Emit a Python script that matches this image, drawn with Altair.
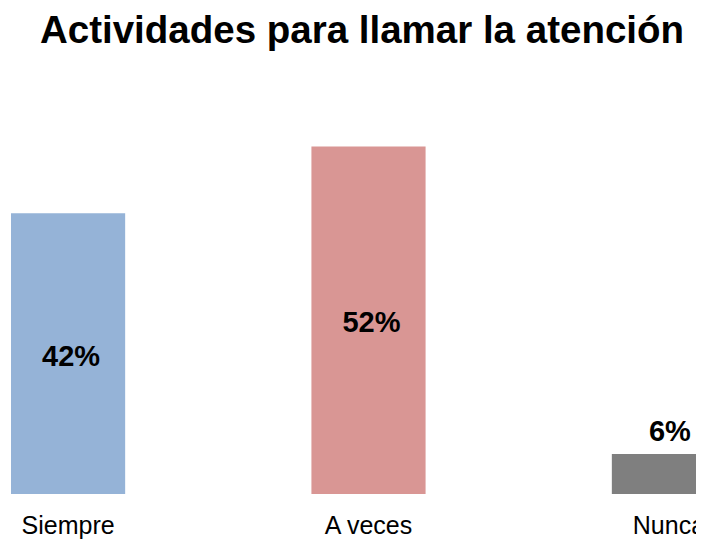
import altair as alt
import pandas as pd

categories = ["Siempre", "A veces", "Nunca"]
values = [0.42, 0.52, 0.06]
colors = ["#95B3D7", "#D99694", "#7F7F7F"]
title = "Actividades para llamar la atención"

df = pd.DataFrame({"cat": categories, "val": values})

x = alt.X("cat:N", sort=categories, title=None,
          scale=alt.Scale(range=[0, 721], paddingInner=0.62, paddingOuter=0.01),
          axis=alt.Axis(ticks=False, domain=False, labelAngle=0, labelFont="Liberation Sans",
                        labelFontSize=25, labelColor="black", labelPadding=19))
y = alt.Y("val:Q", scale=alt.Scale(domain=[0, 0.6]), axis=None, title=None)

bars = alt.Chart(df).mark_bar().encode(
    x=x, y=y,
    color=alt.Color("cat:N", scale=alt.Scale(domain=categories, range=colors), legend=None),
)

inside = alt.Chart(df).transform_filter("datum.val >= 0.1").transform_calculate(
    mid="datum.val / 2", lab="format(datum.val, '.0%')"
).mark_text(font="Liberation Sans", fontWeight="bold", fontSize=29, color="black",
            baseline="middle", dx=3, dy=3).encode(
    x=alt.X("cat:N", sort=categories), y=alt.Y("mid:Q"), text="lab:N")

outside = alt.Chart(df).transform_filter("datum.val < 0.1").transform_calculate(
    lab="format(datum.val, '.0%')"
).mark_text(font="Liberation Sans", fontWeight="bold", fontSize=29, color="black",
            baseline="bottom", dx=1, dy=-7).encode(
    x=alt.X("cat:N", sort=categories), y=alt.Y("val:Q"), text="lab:N")

chart = alt.layer(bars, inside, outside).properties(
    width=688, height=401,
    autosize=alt.AutoSizeParams(type="none"),
    padding={"left": 0, "right": 0, "top": 85, "bottom": 47},
    title=alt.TitleParams(title, font="Liberation Sans", fontSize=38.5, fontWeight="bold",
                          color="black", anchor="middle", dx=10, offset=42),
).configure_view(stroke=None)

chart.save("out.html", embed_options={"renderer": "svg", "actions": False})
